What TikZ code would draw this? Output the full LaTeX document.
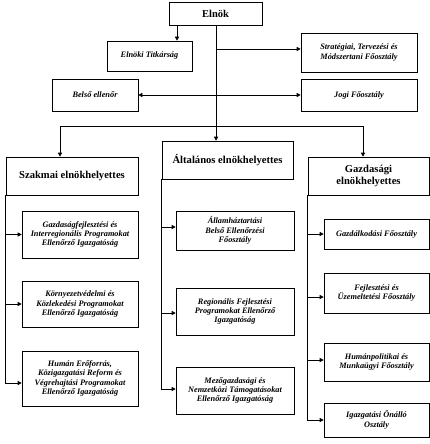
\documentclass[tikz,border=0pt]{standalone}
\usepackage{fontspec}
\setmainfont{Liberation Serif}
\usetikzlibrary{arrows.meta,shadows}
\begin{document}
\begin{tikzpicture}[x=1pt,y=-1pt,
  box/.style={draw=black, line width=0.6pt, fill=white, inner sep=1pt, align=center,
    drop shadow={shadow xshift=1pt, shadow yshift=-1pt, fill=gray!45, opacity=1}},
  head/.style={box, font=\fontsize{10.6}{12}\selectfont\bfseries},
  sub/.style={box, font=\fontsize{8.3}{9.4}\selectfont\bfseries\itshape},
  ln/.style={line width=0.6pt, draw=black},
  arr/.style={ln, -{Triangle[length=4pt,width=4pt]}},
  arrr/.style={ln, {Triangle[length=4pt,width=4pt]}-{Triangle[length=4pt,width=4pt]}}]
\useasboundingbox (0,0) rectangle (430,444);

\node[head, minimum width=93pt, minimum height=23pt, font=\fontsize{10.5}{12}\selectfont\bfseries] (elnok) at (215.5,13.5) {Elnök};
\node[sub, minimum width=85pt, minimum height=30pt] (titk) at (149.5,56) {Elnöki Titkárság};
\node[sub, minimum width=116pt, minimum height=39pt] (strat) at (359,52.5) {Stratégiai, Tervezési és\\Módszertani Főosztály};
\node[sub, minimum width=86pt, minimum height=32pt] (belso) at (95,95) {Belső ellenőr};
\node[sub, minimum width=116pt, minimum height=32pt] (jogi) at (359,95) {Jogi Főosztály};

\node[head, minimum width=132pt, minimum height=38pt] (szak) at (72,176) {Szakmai elnökhelyettes};
\node[head, minimum width=131pt, minimum height=38pt] (alt) at (227.5,160) {Általános elnökhelyettes};
\node[head, minimum width=121pt, minimum height=38pt] (gazd) at (368.5,176) {Gazdasági\\elnökhelyettes};

\node[sub, minimum width=116pt, minimum height=47pt] (L1) at (80,234.5) {Gazdaságfejlesztési és\\Interregionális Programokat\\Ellenőrző Igazgatóság};
\node[sub, minimum width=116pt, minimum height=46pt] (L2) at (80,304) {Környezetvédelmi és\\Közlekedési Programokat\\Ellenőrző Igazgatóság};
\node[sub, minimum width=116pt, minimum height=55pt] (L3) at (80,378.5) {Humán Erőforrás,\\Közigazgatási Reform és\\Végrehajtási Programokat\\Ellenőrző Igazgatóság};

\node[sub, minimum width=118pt, minimum height=39pt] (M1) at (235,230.5) {Államháztartási\\Belső Ellenőrzési\\Főosztály};
\node[sub, minimum width=118pt, minimum height=47pt] (M2) at (235,311.5) {Regionális Fejlesztési\\Programokat Ellenőrző\\Igazgatóság};
\node[sub, minimum width=118pt, minimum height=47pt] (M3) at (235,390.5) {Mezőgazdasági és\\Nemzetközi Támogatásokat\\Ellenőrző Igazgatóság};

\node[sub, minimum width=105pt, minimum height=30pt] (R1) at (376.5,234) {Gazdálkodási Főosztály};
\node[sub, minimum width=105pt, minimum height=40pt] (R2) at (376.5,293) {Fejlesztési és\\Üzemeltetési Főosztály};
\node[sub, minimum width=105pt, minimum height=38pt] (R3) at (376.5,362) {Humánpolitikai és\\Munkaügyi Főosztály};
\node[sub, minimum width=105pt, minimum height=34pt] (R4) at (376.5,420) {Igazgatási Önálló\\Osztály};

\coordinate (t1) at (177,0);
\coordinate (c) at (216,0);
\coordinate (s) at (0,49);
\coordinate (hl) at (60,126);
\coordinate (hr) at (363,126);

\draw[arr] (elnok.south -| t1) -- (titk.north -| t1);
\draw[arr] (elnok.south -| c) -- (alt.north -| c);
\draw[arr] (c |- s) -- (strat.west |- s);
\draw[arrr] (belso.east) -- (jogi.west);
\draw[arrr] (szak.north -| hl) |- (hr) -- (gazd.north -| hr);

\draw[arr] (szak.south west) |- (L1.west);
\draw[arr] (szak.south west) |- (L2.west);
\draw[arr] (szak.south west) |- ([yshift=-4.5pt]L3.west);

\draw[arr] (alt.south west) |- ([yshift=3.5pt]M1.west);
\draw[arr] (alt.south west) |- ([yshift=-1.5pt]M2.west);
\draw[arr] (alt.south west) |- ([yshift=1.5pt]M3.west);

\draw[arr] (gazd.south west) |- (R1.west);
\draw[arr] (gazd.south west) |- ([yshift=-4pt]R2.west);
\draw[arr] (gazd.south west) |- ([yshift=2pt]R3.west);
\draw[arr] (gazd.south west) |- (R4.west);
\end{tikzpicture}
\end{document}
